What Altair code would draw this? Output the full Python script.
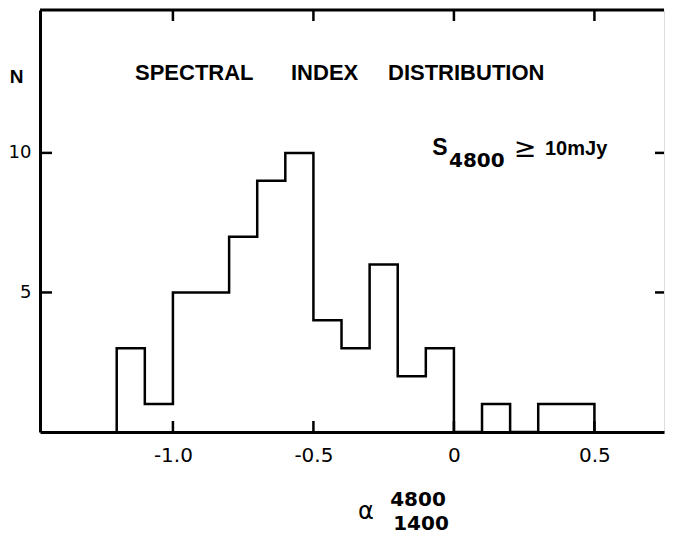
import altair as alt
import pandas as pd

# ---- data ----
bin_left = [-1.2, -1.1, -1.0, -0.9, -0.8, -0.7, -0.6, -0.5, -0.4, -0.3,
            -0.2, -0.1, 0.0, 0.1, 0.2, 0.3, 0.4]
counts = [3, 1, 5, 5, 7, 9, 10, 4, 3, 6, 2, 3, 0, 1, 0, 1, 1]
bin_width = 0.1
x_ticks = [-1.0, -0.5, 0.0, 0.5]
y_ticks = [5, 10]

# step outline: start on the baseline, one point per bin, close on the baseline
xs = [bin_left[0]] + bin_left + [round(bin_left[-1] + bin_width, 2)]
ys = [0] + counts + [0]
step_df = pd.DataFrame({"x": xs, "n": ys, "idx": list(range(len(xs)))})
xt_df = pd.DataFrame({"x": x_ticks})
yt_df = pd.DataFrame({"n": y_ticks})
one = pd.DataFrame({"a": [0]})

W, H = 624, 422
FONT = "DejaVu Sans"
TFONT = "Liberation Sans"
x_scale = alt.Scale(domain=[-1.473, 0.7476], nice=False, zero=False)
y_scale = alt.Scale(domain=[0, 15.12], nice=False, zero=False)

label_expr = ("datum.value == 0 ? '0' : (datum.value < 0 ? '-' + format(-datum.value, '.1f') "
              ": format(datum.value, '.1f'))")

x_axis = alt.Axis(values=x_ticks, ticks=False, grid=False, domain=True,
                  domainColor="black", domainWidth=3, labelExpr=label_expr,
                  labelFont=FONT, labelFontSize=20, labelColor="black",
                  labelPadding=13, labelFlush=False, labelOverlap=False,
                  labelBound=False, title=None)
y_axis = alt.Axis(values=y_ticks, ticks=False, grid=False, domain=True,
                  domainColor="black", domainWidth=3, labelFont=FONT,
                  labelFontSize=18, labelColor="black", labelPadding=9,
                  labelOverlap=False, labelBound=False,
                  title="N", titleAngle=0, titleX=-24, titleY=66,
                  titleFont=TFONT, titleFontSize=19, titleFontWeight="bold",
                  titleColor="black", titleAlign="center",
                  titleBaseline="middle")

step = alt.Chart(step_df).mark_line(
    interpolate="step-after", color="black", strokeWidth=2.5
).encode(
    x=alt.X("x:Q", scale=x_scale, axis=x_axis),
    y=alt.Y("n:Q", scale=y_scale, axis=y_axis),
    order=alt.Order("idx:Q"),
)

tick_style = dict(color="black", strokeWidth=2.5)
bottom_ticks = alt.Chart(xt_df).mark_rule(**tick_style).encode(
    x=alt.X("x:Q", scale=x_scale, axis=x_axis), y=alt.value(H), y2=alt.value(H - 11))
top_ticks = alt.Chart(xt_df).mark_rule(**tick_style).encode(
    x=alt.X("x:Q", scale=x_scale, axis=x_axis), y=alt.value(0), y2=alt.value(11))
left_ticks = alt.Chart(yt_df).mark_rule(**tick_style).encode(
    y=alt.Y("n:Q", scale=y_scale, axis=y_axis), x=alt.value(0), x2=alt.value(12))
right_ticks = alt.Chart(yt_df).mark_rule(**tick_style).encode(
    y=alt.Y("n:Q", scale=y_scale, axis=y_axis), x=alt.value(W), x2=alt.value(W - 9))
top_line = alt.Chart(one).mark_rule(color="black", strokeWidth=3).encode(
    x=alt.value(0), x2=alt.value(W), y=alt.value(0))


def txt(text, x, y, size, align="left", baseline="alphabetic", font=TFONT,
        weight="bold"):
    return alt.Chart(one).mark_text(
        text=text, font=font, fontSize=size, fontWeight=weight, color="black",
        align=align, baseline=baseline
    ).encode(x=alt.value(x), y=alt.value(y))


texts = [
    txt("SPECTRAL", 95, 70, 22),
    txt("INDEX", 251, 70, 22),
    txt("DISTRIBUTION", 348, 70, 22),
    txt("S", 400, 145, 23, align="center"),
    txt("4800", 409, 157, 20, font=FONT),
    txt("≥", 485, 139, 27, align="center", baseline="middle", font=FONT,
        weight="normal"),
    txt("10mJy", 505, 145, 20),
    txt("α", 326, 502, 24, align="center", baseline="middle", font=FONT,
        weight="normal"),
    txt("4800", 378, 490, 20, align="center", baseline="middle", font=FONT),
    txt("1400", 381, 514, 20, align="center", baseline="middle", font=FONT),
]

chart = alt.layer(
    step, bottom_ticks, top_ticks, left_ticks, right_ticks, top_line, *texts
).properties(
    width=W, height=H,
    autosize=alt.AutoSizeParams(type="none"),
    padding={"left": 32, "top": 2, "right": 2, "bottom": 102},
).configure_view(strokeWidth=0).configure(background="white")

chart.save("out.html", embed_options={"renderer": "svg", "actions": False})
